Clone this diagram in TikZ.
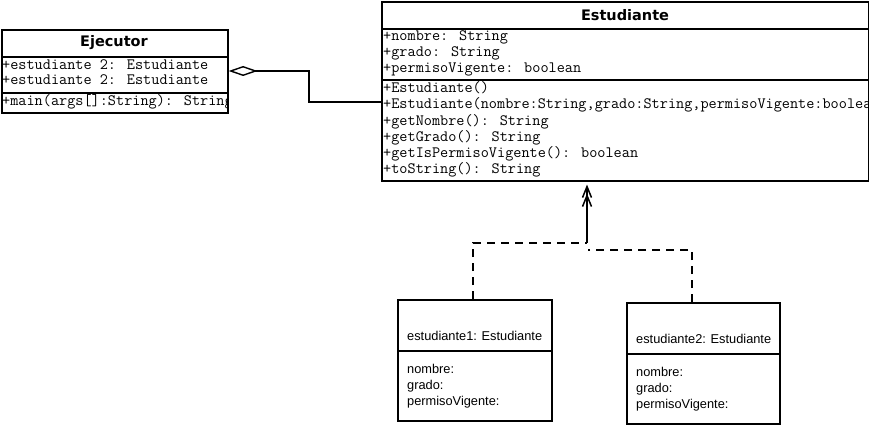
\documentclass[tikz,border=0pt]{standalone}
\usepackage{fontspec}
\setmainfont{Liberation Sans}
\newfontfamily\monof{Latin Modern Mono}
\newfontfamily\titlef{DejaVu Sans}
\usetikzlibrary{arrows.meta}
\tikzset{
  box/.style={draw, line width=1.6pt, rectangle, inner sep=0pt, anchor=north west},
  sep/.style={line width=1.6pt},
  ttl/.style={font=\titlef\bfseries\fontsize{14.5}{18}\selectfont, inner sep=0pt},
  mono/.style={font=\monof\fontsize{15.8}{16}\selectfont, anchor=west, inner sep=0pt, text height=8pt, text depth=2pt},
  obj/.style={font=\fontsize{12.8}{14}\selectfont, anchor=west, inner sep=0pt, text height=9pt, text depth=2.5pt},
  conn/.style={line width=1.6pt},
  dashline/.style={line width=1.6pt, dash pattern=on 8pt off 6pt},
  barbtip/.style={-{Straight Barb[length=11pt,width=9pt,line width=1.5pt]}},
}
\begin{document}
\begin{tikzpicture}[x=1pt,y=-1pt]
\useasboundingbox (0,0) rectangle (869,425);
% Ejecutor
\node[box, minimum width=226pt, minimum height=83pt] (ej) at (1,29) {};
\draw[sep] (1,57) -- (227,57);
\draw[sep] (1,93) -- (227,93);
\node[ttl] (ejt) at (114,43) {Ejecutor};
\begin{scope}
\clip (2,30) rectangle (226,111);
\node[mono] (eja1) at (2,67) {+estudiante 2: Estudiante};
\node[mono] (eja2) at (2,82) {+estudiante 2: Estudiante};
\node[mono] (ejm1) at (2,103) {+main(args[]:String): String};
\end{scope}
% Estudiante
\node[box, minimum width=487pt, minimum height=179pt] (es) at (381,1) {};
\draw[sep] (381,29) -- (868,29);
\draw[sep] (381,80) -- (868,80);
\node[ttl] (est) at (625,15) {Estudiante};
\begin{scope}
\clip (382,2) rectangle (867,179);
\node[mono] (esa1) at (383,38) {+nombre: String};
\node[mono] (esa2) at (383,54) {+grado: String};
\node[mono] (esa3) at (383,70) {+permisoVigente: boolean};
\node[mono] (esm1) at (383,90) {+Estudiante()};
\node[mono] (esm2) at (383,106) {+Estudiante(nombre:String,grado:String,permisoVigente:boolean)};
\node[mono] (esm3) at (383,122) {+getNombre(): String};
\node[mono] (esm4) at (383,138) {+getGrado(): String};
\node[mono] (esm5) at (383,154) {+getIsPermisoVigente(): boolean};
\node[mono] (esm6) at (383,170) {+toString(): String};
\end{scope}
% object 1
\node[box, minimum width=154pt, minimum height=121pt] (o1) at (397,299) {};
\draw[sep] (397,351) -- (551,351);
\node[obj] (o1t) at (407,337) {estudiante1: Estudiante};
\node[obj] (o1a) at (407,370) {nombre:};
\node[obj] (o1b) at (407,386) {grado:};
\node[obj] (o1c) at (407,402) {permisoVigente:};
% object 2
\node[box, minimum width=153pt, minimum height=121pt] (o2) at (626,302) {};
\draw[sep] (626,354) -- (779,354);
\node[obj] (o2t) at (636,340) {estudiante2: Estudiante};
\node[obj] (o2a) at (636,373) {nombre:};
\node[obj] (o2b) at (636,389) {grado:};
\node[obj] (o2c) at (636,405) {permisoVigente:};
% connectors
\coordinate (j1) at (473,243);
\coordinate (j2) at (587,243);
\coordinate (j3) at (588,250);
\coordinate (j4) at (692,250);
\draw[dashline] (o1.north -| j1) -- (j1) -- (j2);
\draw[dashline] (o2.north -| j4) -- (j4) -- (j3);
\draw[conn, barbtip] (j2) -- ([yshift=-3pt]j2 |- es.south);
\draw[conn, barbtip] (j2) -- ([yshift=-12pt]j2 |- es.south);
\coordinate (a1) at (309,71);
\coordinate (a2) at (309,102);
\draw[conn, {Diamond[open,length=29pt,width=10pt,line width=1.4pt]}-] (ej.east |- a1) -- (a1) -- (a2) -- (es.west |- a2);
\end{tikzpicture}
\end{document}
